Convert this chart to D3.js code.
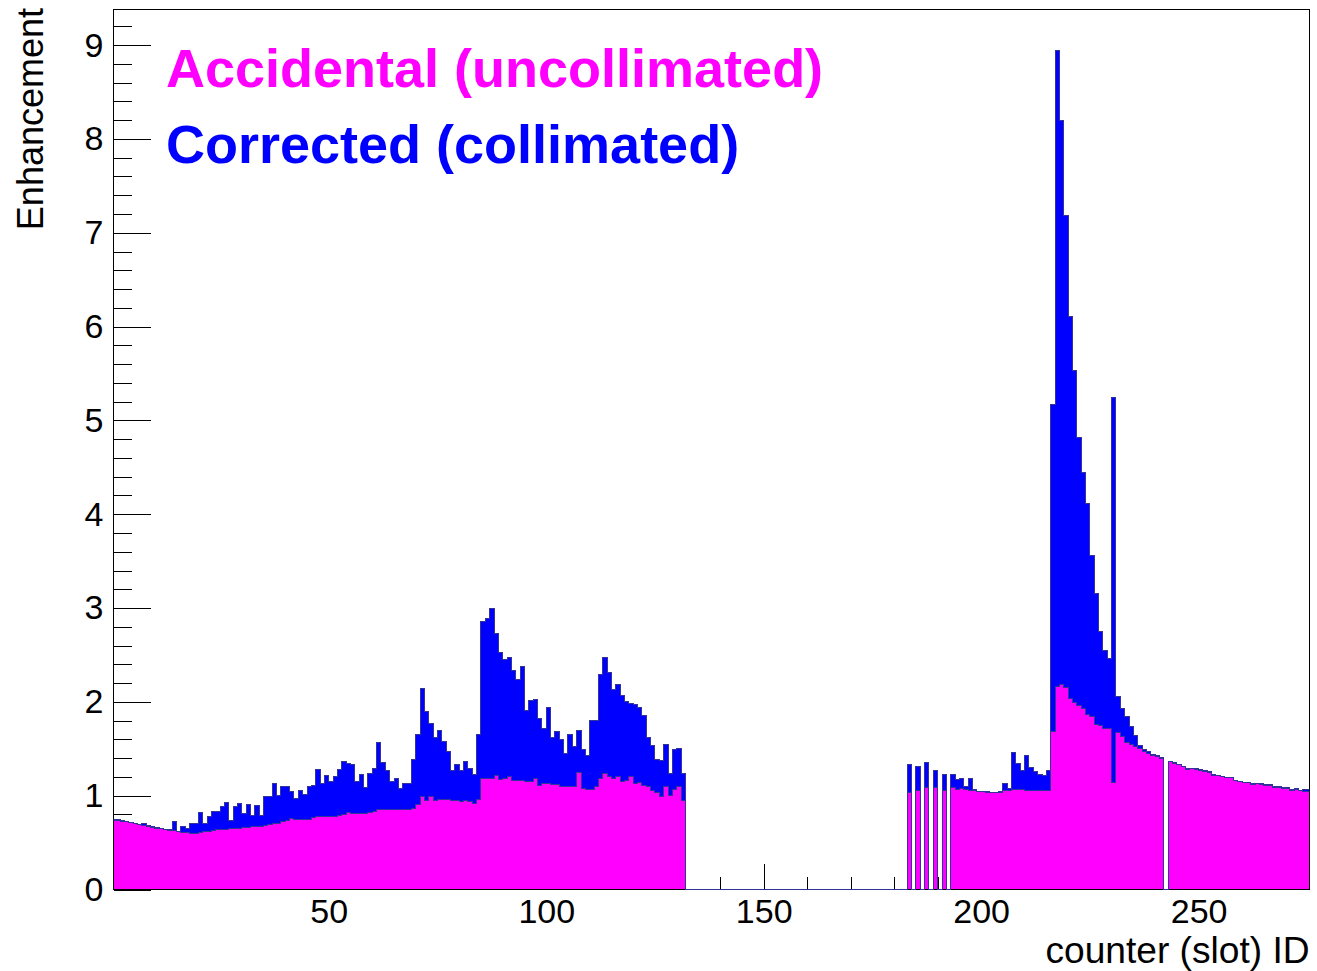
<!DOCTYPE html>
<html>
<head>
<meta charset="utf-8">
<script src="https://cdn.jsdelivr.net/npm/d3@7"></script>
<style>
  html, body { margin: 0; padding: 0; background: #ffffff; }
  svg { display: block; }
  text { font-family: "Liberation Sans", Arial, Helvetica, sans-serif; }
</style>
</head>
<body>
<svg id="chart" width="1317" height="971"></svg>
<script>
// Enhancement per counter slot; the array index is the slot ID (0..275).
// Empty slots hold 0.
const accidental = [
  0.74, 0.74, 0.73, 0.72, 0.71, 0.70, 0.69, 0.68, 0.675, 0.665,
  0.655, 0.645, 0.635, 0.63, 0.625, 0.615, 0.61, 0.605, 0.60, 0.60,
  0.605, 0.615, 0.62, 0.63, 0.635, 0.64, 0.64, 0.645, 0.65, 0.655,
  0.66, 0.665, 0.67, 0.67, 0.67, 0.685, 0.69, 0.70, 0.705, 0.72,
  0.735, 0.755, 0.75, 0.75, 0.75, 0.75, 0.77, 0.775, 0.775, 0.78,
  0.78, 0.78, 0.79, 0.80, 0.82, 0.81, 0.81, 0.81, 0.81, 0.82,
  0.83, 0.85, 0.855, 0.855, 0.85, 0.855, 0.85, 0.85, 0.85, 0.86,
  0.91, 0.99, 0.95, 0.99, 0.95, 0.96, 0.96, 0.96, 0.95, 0.95,
  0.94, 0.95, 0.94, 0.92, 0.96, 1.18, 1.18, 1.18, 1.21, 1.17,
  1.18, 1.20, 1.16, 1.16, 1.16, 1.15, 1.15, 1.18, 1.11, 1.13,
  1.13, 1.12, 1.12, 1.10, 1.10, 1.10, 1.10, 1.245, 1.08, 1.07,
  1.07, 1.10, 1.18, 1.24, 1.20, 1.18, 1.20, 1.15, 1.16, 1.20,
  1.13, 1.14, 1.11, 1.10, 1.06, 1.03, 0.99, 1.10, 1.00, 1.07,
  1.10, 0.95,
  0, 0, 0, 0, 0, 0, 0, 0, 0, 0,
  0, 0, 0, 0, 0, 0, 0, 0, 0, 0,
  0, 0, 0, 0, 0, 0, 0, 0, 0, 0,
  0, 0, 0, 0, 0, 0, 0, 0, 0, 0,
  0, 0, 0, 0, 0, 0, 0, 0, 0, 0,
  0,
  1.03, 0, 1.06, 0, 1.09, 0, 1.09, 0, 1.06, 0,
  1.09, 1.07, 1.08, 1.065, 1.06, 1.06, 1.04, 1.04, 1.035, 1.03,
  1.03, 1.035, 1.05, 1.06, 1.07, 1.065, 1.065, 1.05, 1.055, 1.055,
  1.055, 1.06, 1.06, 1.68, 2.16, 2.19, 2.15, 2.04, 1.99, 1.96,
  1.93, 1.87, 1.84, 1.76, 1.75, 1.72, 1.72, 1.14, 1.67, 1.63,
  1.57, 1.55, 1.52, 1.50, 1.47, 1.45, 1.43, 1.42, 1.40, 0,
  1.36, 1.345, 1.33, 1.31, 1.28, 1.29, 1.28, 1.27, 1.26, 1.25,
  1.22, 1.21, 1.20, 1.19, 1.19, 1.16, 1.15, 1.14, 1.14, 1.12,
  1.13, 1.12, 1.11, 1.11, 1.09, 1.09, 1.08, 1.08, 1.06, 1.07,
  1.05, 1.04, 1.04
];

const corrected = [
  0.75, 0.75, 0.74, 0.73, 0.715, 0.705, 0.695, 0.70, 0.68, 0.67,
  0.66, 0.65, 0.64, 0.635, 0.73, 0.62, 0.67, 0.65, 0.705, 0.705,
  0.82, 0.705, 0.78, 0.835, 0.835, 0.88, 0.93, 0.74, 0.89, 0.92,
  0.81, 0.91, 0.79, 0.90, 0.79, 0.99, 0.99, 1.13, 1.00, 1.10,
  1.10, 1.04, 0.97, 1.05, 1.01, 1.10, 1.11, 1.28, 1.13, 1.22,
  1.15, 1.20, 1.28, 1.36, 1.345, 1.33, 1.15, 1.23, 1.09, 1.24,
  1.29, 1.57, 1.35, 1.27, 1.15, 1.18, 1.08, 1.13, 1.13, 1.39,
  1.65, 2.145, 1.90, 1.77, 1.62, 1.69, 1.58, 1.47, 1.27, 1.33,
  1.27, 1.36, 1.29, 1.23, 1.65, 2.86, 2.89, 3.00, 2.73, 2.53,
  2.45, 2.47, 2.33, 2.24, 2.38, 1.91, 2.01, 2.02, 1.82, 1.72,
  1.94, 1.62, 1.68, 1.60, 1.45, 1.65, 1.52, 1.69, 1.49, 1.43,
  1.80, 1.80, 2.29, 2.475, 2.31, 2.13, 2.18, 2.07, 2.00, 1.98,
  1.97, 1.94, 1.86, 1.62, 1.54, 1.39, 1.38, 1.55, 1.24, 1.49,
  1.50, 1.24,
  0, 0, 0, 0, 0, 0, 0, 0, 0, 0,
  0, 0, 0, 0, 0, 0, 0, 0, 0, 0,
  0, 0, 0, 0, 0, 0, 0, 0, 0, 0,
  0, 0, 0, 0, 0, 0, 0, 0, 0, 0,
  0, 0, 0, 0, 0, 0, 0, 0, 0, 0,
  0,
  1.335, 0, 1.31, 0, 1.35, 0, 1.27, 0, 1.23, 0,
  1.23, 1.17, 1.185, 1.10, 1.18, 1.065, 1.045, 1.045, 1.04, 1.035,
  1.035, 1.04, 1.13, 1.08, 1.46, 1.34, 1.27, 1.43, 1.30, 1.26,
  1.23, 1.22, 1.27, 5.17, 8.94, 8.20, 7.18, 6.11, 5.53, 4.82,
  4.44, 4.11, 3.56, 3.16, 2.75, 2.55, 2.46, 5.24, 2.06, 1.93,
  1.84, 1.74, 1.64, 1.54, 1.49, 1.47, 1.44, 1.43, 1.41, 0,
  1.365, 1.35, 1.335, 1.315, 1.285, 1.295, 1.285, 1.275, 1.265, 1.255,
  1.225, 1.215, 1.205, 1.195, 1.195, 1.165, 1.155, 1.145, 1.145, 1.125,
  1.135, 1.125, 1.115, 1.115, 1.095, 1.095, 1.085, 1.085, 1.065, 1.075,
  1.055, 1.07, 1.07
];

const xMajorTicks = [50, 100, 150, 200, 250];
const yMajorTicks = [0, 1, 2, 3, 4, 5, 6, 7, 8, 9];
const legendLabels = ["Accidental (uncollimated)", "Corrected (collimated)"];
const xTitle = "counter (slot) ID";
const yTitle = "Enhancement";

// ---- layout ----
const frame = { left: 113.5, right: 1309.5, top: 9.5, bottom: 889.5 };
const xDomain = [0.5, 275.5];
const yDomain = [0, 9.38];

const svg = d3.select("#chart");
const x = d3.scaleLinear().domain(xDomain).range([frame.left, frame.right]);
const y = d3.scaleLinear().domain(yDomain).range([frame.bottom, frame.top]);

const lineColor = "#333399";
const fillAccidental = "#ff00ff";
const fillCorrected = "#0000ff";
const fontStack = "\"Liberation Sans\", Arial, Helvetica, sans-serif";

svg.append("rect").attr("width", 1317).attr("height", 971).attr("fill", "#ffffff");

svg.append("defs").append("clipPath").attr("id", "frameClip")
  .append("rect")
  .attr("x", frame.left).attr("y", frame.top - 1)
  .attr("width", frame.right - frame.left).attr("height", frame.bottom - frame.top + 1.5);

// ---- axes (ticks point into the frame, drawn below the histograms) ----
const xMinor = d3.range(10, 276, 10).filter(v => v % 50 !== 0);
const yMinor = d3.range(1, 47).map(i => i * 0.2)
  .filter(v => Math.abs(v - Math.round(v)) > 1e-6 && v < yDomain[1]);

const xAxisMajor = d3.axisBottom(x).tickValues(xMajorTicks).tickSize(-26).tickPadding(9.5).tickFormat(d3.format("d"));
const xAxisMinor = d3.axisBottom(x).tickValues(xMinor).tickSize(-13).tickFormat("");
const yAxisMajor = d3.axisLeft(y).tickValues(yMajorTicks).tickSize(-37).tickPadding(10).tickFormat(d3.format("d"));
const yAxisMinor = d3.axisLeft(y).tickValues(yMinor).tickSize(-18).tickFormat("");

function styleAxis(g) {
  g.select(".domain").remove();
  g.selectAll(".tick line").attr("stroke", "#000").attr("stroke-width", 1).attr("shape-rendering", "crispEdges");
  g.selectAll(".tick text").attr("fill", "#000").style("font-size", "34px").style("font-family", fontStack);
}

svg.append("g").attr("transform", `translate(0,${frame.bottom})`).call(xAxisMinor).call(styleAxis);
svg.append("g").attr("transform", `translate(0,${frame.bottom})`).call(xAxisMajor).call(styleAxis);
svg.append("g").attr("transform", `translate(${frame.left},0)`).call(yAxisMinor).call(styleAxis);
svg.append("g").attr("transform", `translate(${frame.left},0)`).call(yAxisMajor).call(styleAxis);

// ---- histograms ----
function stepPoints(values) {
  const pts = [];
  values.forEach((v, slot) => {
    pts.push([x(slot), y(v)]);
    pts.push([x(slot + 1), y(v)]);
  });
  return pts;
}

function areaPoints(values) {
  const pts = stepPoints(values);
  pts.unshift([x(0), y(0)]);
  pts.push([x(values.length), y(0)]);
  return pts;
}

const line = d3.line();
const plot = svg.append("g").attr("clip-path", "url(#frameClip)");

function drawFill(values, fill) {
  plot.append("path")
    .attr("d", line(areaPoints(values)) + "Z")
    .attr("fill", fill)
    .attr("stroke", "none")
    .attr("shape-rendering", "crispEdges");
}

drawFill(corrected, fillCorrected);
drawFill(accidental, fillAccidental);

// frame border
svg.append("rect")
  .attr("x", frame.left).attr("y", frame.top)
  .attr("width", frame.right - frame.left).attr("height", frame.bottom - frame.top)
  .attr("fill", "none").attr("stroke", "#000").attr("stroke-width", 1)
  .attr("shape-rendering", "crispEdges");

// histogram outlines on top (they also run along the baseline for empty slots)
const outlines = svg.append("g").attr("clip-path", "url(#frameClip)");
[corrected, accidental].forEach(values => {
  outlines.append("path")
    .attr("d", line(stepPoints(values)))
    .attr("fill", "none")
    .attr("stroke", lineColor)
    .attr("stroke-width", 1)
    .attr("shape-rendering", "crispEdges");
});

// ---- titles ----
svg.append("text")
  .attr("x", frame.right).attr("y", 963.2)
  .attr("text-anchor", "end")
  .attr("textLength", 264)
  .attr("lengthAdjust", "spacingAndGlyphs")
  .style("font-size", "36px")
  .text(xTitle);

svg.append("text")
  .attr("transform", "translate(43,8) rotate(-90)")
  .attr("text-anchor", "end")
  .style("font-size", "36px")
  .text(yTitle);

// ---- legend text ----
const legendColors = [fillAccidental, fillCorrected];
const legendBaselines = [87, 163];
legendLabels.forEach((label, i) => {
  svg.append("text")
    .attr("x", 166).attr("y", legendBaselines[i])
    .attr("fill", legendColors[i])
    .style("font-size", "54px")
    .style("font-weight", "bold")
    .text(label);
});
</script>
</body>
</html>
